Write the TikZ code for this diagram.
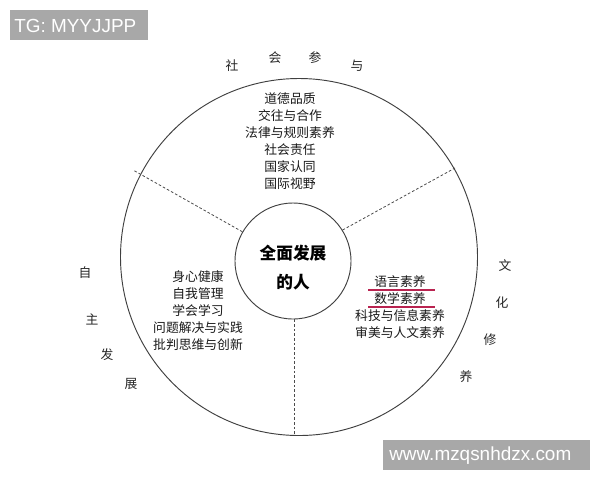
\documentclass[tikz,border=0pt]{standalone}
\usepackage{fontspec}
\newfontfamily\cjk{Noto Sans CJK SC}
\setsansfont{Liberation Sans}
\definecolor{linered}{RGB}{185,35,80}
\definecolor{wmgray}{RGB}{168,168,168}
\begin{document}
\begin{tikzpicture}[x=0.75pt,y=-0.75pt,
  ring/.style={draw=black!75,line width=0.7pt},
  divider/.style={draw=black!70,line width=0.6pt,dash pattern=on 2pt off 1.5pt},
  body/.style={font=\cjk\fontsize{9.6}{12.75}\selectfont,text=black!90,align=center,inner sep=0pt},
  rim/.style={font=\cjk\fontsize{9.6}{11}\selectfont,text=black!85,inner sep=0pt},
  hub/.style={font=\cjk\bfseries\fontsize{12.5}{21.75}\selectfont,align=center,inner sep=0pt},
  redline/.style={draw=linered,line width=1.4pt},
  wmtext/.style={text=white,font=\sffamily\fontsize{14.2}{14.2}\selectfont,inner sep=0pt,anchor=west}]
\useasboundingbox (0,0) rectangle (600,480);
\fill[white] (0,0) rectangle (600,480);
% circles
\node[ring,circle,minimum size=357*0.75pt,inner sep=0pt] (outer) at (299,257) {};
\node[ring,circle,minimum size=116*0.75pt,inner sep=0pt] (inner) at (293,261) {};
% dividers
\coordinate (o1) at (133,170);
\coordinate (o2) at (455,168);
\coordinate (o3) at (294,435);
\draw[divider] (inner.150) -- (o1);
\draw[divider] (inner.32) -- (o2);
\draw[divider] (inner.south) ++(1,0) -- (o3);
% centre text
\node[hub] (hubtext) at (293,267.5) {全面发展\\的人};
% top block
\node[body] (top) at (290,141.5) {道德品质\\交往与合作\\法律与规则素养\\社会责任\\国家认同\\国际视野};
% left block
\node[body,anchor=north] (left) at (198,270) {身心健康\\自我管理\\学会学习\\问题解决与实践\\批判思维与创新};
% right block
\node[body,anchor=north] (right) at (400,275) {语言素养\\数学素养\\科技与信息素养\\审美与人文素养};
\coordinate (r1a) at (368,290);
\coordinate (r1b) at (435,290);
\coordinate (r2a) at (368,307);
\coordinate (r2b) at (435,307);
\draw[redline] (r1a) -- (r1b);
\draw[redline] (r2a) -- (r2b);
% rim labels
\node[rim] (s1) at (232,66) {社};
\node[rim] (s2) at (275,58) {会};
\node[rim] (s3) at (315,58) {参};
\node[rim] (s4) at (357,66) {与};
\node[rim] (z1) at (85,273) {自};
\node[rim] (z2) at (92,319) {主};
\node[rim] (z3) at (107,355) {发};
\node[rim] (z4) at (131,384) {展};
\node[rim] (w1) at (505,266) {文};
\node[rim] (w2) at (502,303) {化};
\node[rim] (w3) at (490,340) {修};
\node[rim] (w4) at (466,377) {养};
% watermarks
\fill[wmgray] (10,10) rectangle (148,40);
\node[wmtext] (tg) at (14,25.5) {TG: MYYJJPP};
\fill[wmgray] (383,440) rectangle (590,470);
\node[wmtext] (www) at (389,455.5) {www.mzqsnhdzx.com};
\end{tikzpicture}
\end{document}
